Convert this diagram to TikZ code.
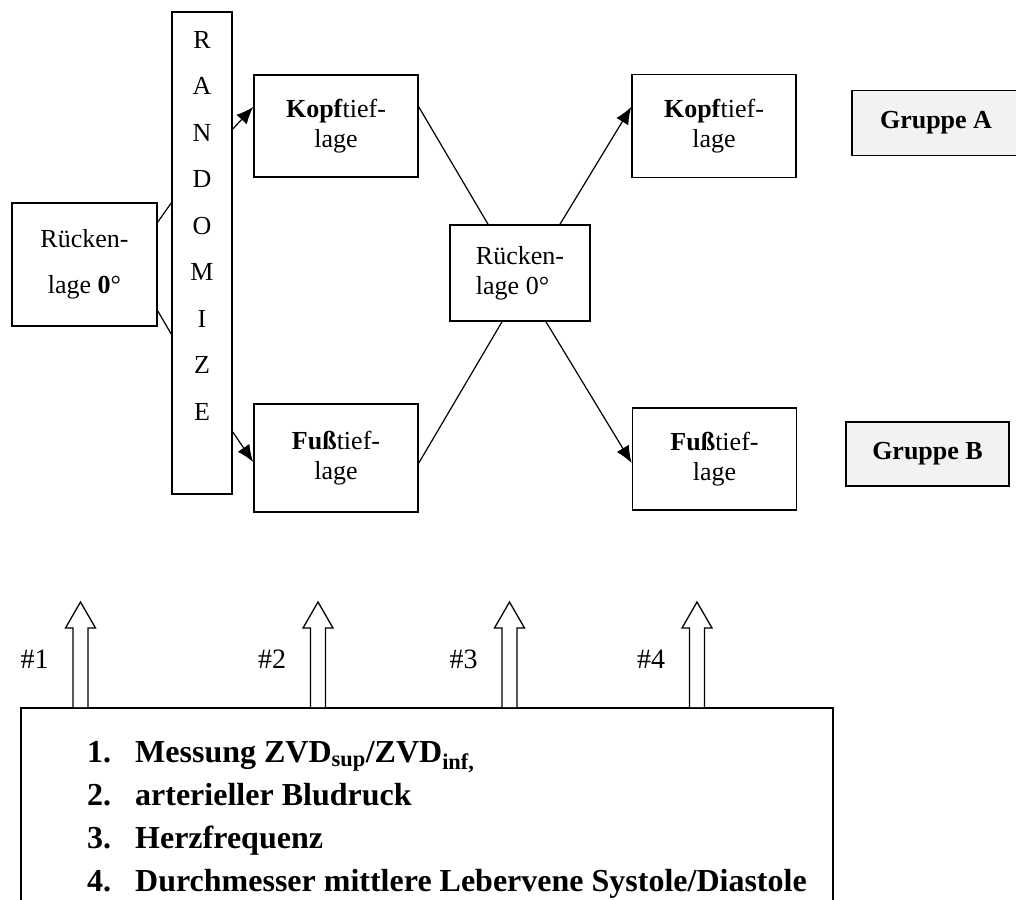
\documentclass[tikz,border=0pt]{standalone}
\usepackage{fontspec}
\setmainfont{Liberation Serif}
\usetikzlibrary{arrows.meta}
\tikzstyle{block} = [draw, rectangle, line width=1.6pt, minimum width=164pt, minimum height=102pt, align=center, inner sep=0pt]
\tikzstyle{line} = [draw, line width=1.2pt, -{Latex[length=17pt,width=14pt]}]

\begin{document}
\begin{tikzpicture}[x=1pt, y=1pt, font=\fontsize{26}{30}\selectfont]
    % Define styles for blocks and lines
    \tikzstyle{groupblock} = [draw, fill=black!5, rectangle, line width=1.6pt, minimum height=65pt, font=\fontsize{26}{30}\selectfont\bfseries]
    \tikzstyle{plainline} = [draw, line width=1.2pt]
    \tikzstyle{hollowarrow} = [draw, fill=white, line width=1.3pt]
    \tikzstyle{numlabel} = [anchor=base, inner sep=0pt, font=\fontsize{28}{32}\selectfont]
    \useasboundingbox (0,0) rectangle (1016,-899);

    % Place nodes
    \node [block, minimum width=145pt, minimum height=123pt, font=\fontsize{26}{46}\selectfont] (start) at (84.5,-264.5) {R\"ucken-\\lage \textbf{0}°};
    \node [block, minimum width=60pt, minimum height=482pt] (rand) at (202,-253) {};
    \node [align=center, font=\fontsize{26}{46.5}\selectfont] (randtext) at (rand.center) [yshift=27.5pt] {R\\A\\N\\D\\O\\M\\I\\Z\\E};
    \node [block] (kopfA) at (336,-126) {\textbf{Kopf}tief-\\lage};
    \node [block, minimum height=108pt] (fussA) at (336,-458) {\textbf{Fuß}tief-\\lage};
    \node [block, minimum width=140pt, minimum height=96pt, align=left] (mid) at (520,-273) {R\"ucken-\\lage 0°};
    \node [block, minimum height=103pt] (kopfB) at (714,-126) {\textbf{Kopf}tief-\\lage};
    \node [block] (fussB) at (714.5,-459) {\textbf{Fuß}tief-\\lage};
    \node [groupblock, minimum width=168pt] (groupA) at (936,-123) {Gruppe A};
    \node [groupblock, minimum width=163pt, minimum height=64pt] (groupB) at (927.5,-454) {Gruppe B};

    \node [draw, rectangle, line width=1.6pt, minimum width=812pt, minimum height=220pt, anchor=north west] (meas) at (20,-707) {};
    \node [anchor=north west, inner sep=0pt, align=left, font=\fontsize{32}{43}\selectfont\bfseries] (items) at ([shift={(67,-34)}]meas.north west)
        {\makebox[48pt][l]{1.}Messung ZVD\textsubscript{sup}/ZVD\textsubscript{inf,}\\
         \makebox[48pt][l]{2.}arterieller Bludruck\\
         \makebox[48pt][l]{3.}Herzfrequenz\\
         \makebox[48pt][l]{4.}Durchmesser mittlere Lebervene Systole/Diastole};

    % Draw edges
    \path [plainline] ([yshift=42.5pt]start.east) -- ([yshift=50pt]rand.west);
    \path [plainline] ([yshift=-46.5pt]start.east) -- ([yshift=-81pt]rand.west);
    \path [line] ([yshift=124pt]rand.east) -- ([yshift=19pt]kopfA.west);
    \path [line] ([yshift=-179pt]rand.east) -- ([yshift=-4pt]fussA.west);
    \path [plainline] ([yshift=19pt]kopfA.east) -- ([xshift=-32pt]mid.north);
    \path [plainline] ([yshift=-5pt]fussA.east) -- ([xshift=-18pt]mid.south);
    \path [line] ([xshift=40pt]mid.north) -- ([yshift=19pt]kopfB.west);
    \path [line] ([xshift=26pt]mid.south) -- ([yshift=-4pt]fussB.west);

    % measuring points
    \foreach \x/\n in {80.5/1, 318/2, 509.5/3, 697/4} {
        \draw [hollowarrow] (\x,0 |- meas.north) ++(-7.5,0) -- ++(0,79) -- ++(-7.5,0) -- ++(15,26) -- ++(15,-26) -- ++(-7.5,0) -- ++(0,-79);
        \node [numlabel] (num\n) at (\x-46,-668) {\#\n};
    }
\end{tikzpicture}
\end{document}
